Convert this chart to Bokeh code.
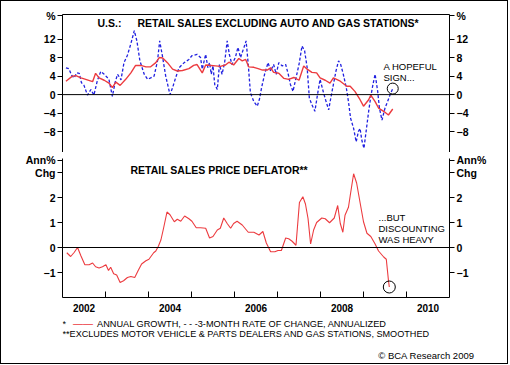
from bokeh.plotting import figure
from bokeh.models import Range1d, LinearAxis, FixedTicker, Span, Label, Title
from bokeh.layouts import column
from bokeh.embed import file_html
from bokeh.resources import INLINE

FONT = "Liberation Sans"

# ---------------- data ----------------
growth_x = [2002.08, 2002.23, 2002.31, 2002.43, 2002.54, 2002.70, 2002.77, 2002.85, 2002.97,
            2003.08, 2003.16, 2003.24, 2003.34, 2003.47, 2003.59, 2003.70, 2003.82, 2003.94,
            2004.05, 2004.17, 2004.25, 2004.33, 2004.44, 2004.56, 2004.67, 2004.79, 2004.94,
            2005.05, 2005.13, 2005.25, 2005.33, 2005.45, 2005.56, 2005.67, 2005.79, 2005.87, 2005.98,
            2006.10, 2006.18, 2006.26, 2006.33, 2006.45, 2006.55, 2006.65, 2006.76, 2006.84, 2006.91,
            2007.03, 2007.15, 2007.26, 2007.38, 2007.50, 2007.61, 2007.69, 2007.80, 2007.91,
            2007.99, 2008.11, 2008.22, 2008.30, 2008.46, 2008.61, 2008.69, 2008.80, 2008.92,
            2009.00, 2009.12, 2009.17, 2009.27, 2009.35, 2009.47, 2009.58, 2009.68]
growth_y = [2.9, 4.0, 4.1, 3.6, 3.3, 2.8, 4.6, 3.6, 3.1,
            2.5, 1.5, 2.7, 2.0, 3.3, 4.7, 6.3, 6.3, 6.0,
            6.0, 6.9, 8.0, 7.9, 6.9, 5.5, 5.1, 5.2, 5.6,
            6.3, 6.5, 4.7, 6.4, 6.3, 6.2, 6.1, 6.4, 7.0, 6.4,
            7.8, 7.3, 7.6, 6.0, 5.9, 5.6, 5.3, 5.3, 5.8, 4.8,
            4.6, 3.5, 3.3, 3.7, 3.1, 6.2, 5.5, 4.8, 4.7,
            3.6, 3.1, 2.5, 3.6, 2.9, 1.8, 1.8, 0.7, -1.1,
            -2.5, -1.1, -0.1, -1.5, -2.9, -3.6, -4.4, -3.1]

rate3m_x = [2002.08, 2002.15, 2002.21, 2002.27, 2002.33, 2002.39, 2002.44, 2002.50, 2002.58,
            2002.66, 2002.73, 2002.81, 2002.89, 2002.97, 2003.08, 2003.16, 2003.22, 2003.28,
            2003.36, 2003.43, 2003.51, 2003.59, 2003.67, 2003.73, 2003.80, 2003.90, 2003.98,
            2004.05, 2004.13, 2004.21, 2004.26, 2004.33, 2004.40, 2004.50, 2004.56, 2004.63,
            2004.71, 2004.83, 2004.94, 2005.01, 2005.13, 2005.21, 2005.25, 2005.33, 2005.38,
            2005.42, 2005.46, 2005.50, 2005.54, 2005.60, 2005.65, 2005.71, 2005.77, 2005.83,
            2005.88, 2005.94, 2006.02, 2006.08, 2006.14, 2006.22, 2006.27, 2006.32, 2006.37,
            2006.45, 2006.53, 2006.58, 2006.63, 2006.70, 2006.78, 2006.84, 2006.91, 2006.97,
            2007.03, 2007.11, 2007.19, 2007.25, 2007.30, 2007.36, 2007.43, 2007.50, 2007.57,
            2007.63, 2007.69, 2007.74, 2007.80, 2007.87, 2007.93, 2007.99, 2008.07, 2008.13,
            2008.19, 2008.24, 2008.30, 2008.36, 2008.42, 2008.47, 2008.53, 2008.60, 2008.65,
            2008.70, 2008.77, 2008.83, 2008.88, 2008.92, 2008.96, 2009.01, 2009.06, 2009.12,
            2009.17, 2009.22, 2009.27, 2009.33, 2009.37, 2009.43, 2009.50, 2009.56, 2009.62,
            2009.68]
rate3m_y = [5.8, 5.6, 4.2, 3.6, 4.7, 4.6, 2.6, 2.0, -0.1,
            1.1, -0.1, 3.0, 5.0, 4.4, 3.3, -0.4, 2.5, 4.4,
            3.2, 6.9, 8.5, 11.0, 13.8, 11.6, 7.3, 4.4, 3.3,
            3.6, 4.0, 7.3, 11.6, 8.0, 4.0, 0.0, 1.5, 3.6,
            5.8, 6.9, 7.6, 8.4, 8.7, 8.0, 5.5, 8.7, 5.8,
            6.9, 4.4, 6.2, 2.2, 1.1, 6.5, 4.4, 6.9, 11.6,
            8.7, 6.5, 8.0, 10.2, 8.0, 10.2, 11.6, 6.5, 0.4,
            -1.5, -2.5, -1.0, 1.5, 4.4, 6.9, 5.1, 6.5, 4.4,
            6.9, 6.2, 6.5, 4.4, 2.2, 0.7, 3.6, 6.5, 10.5,
            9.5, 5.8, -0.7, -2.2, -3.6, 0.0, 3.3, 0.4, -1.5,
            -3.3, -0.7, 2.2, 5.1, 7.3, 6.5, 4.4, 1.5, -1.5,
            -5.1, -7.3, -10.2, -8.0, -7.3, -9.8, -11.6, -8.0, -3.6,
            -0.4, 2.2, 4.4, 0.7, -2.9, -5.5, -2.9, -1.5, 0.0,
            1.3]

deflator_x = [2002.10, 2002.19, 2002.27, 2002.35, 2002.43, 2002.52, 2002.62, 2002.70, 2002.77,
              2002.85, 2002.93, 2003.01, 2003.07, 2003.12, 2003.19, 2003.26, 2003.34, 2003.42,
              2003.51, 2003.59, 2003.68, 2003.76, 2003.84, 2003.94, 2004.01, 2004.12, 2004.17,
              2004.23, 2004.29, 2004.35, 2004.43, 2004.50, 2004.60, 2004.67, 2004.75, 2004.84,
              2004.94, 2005.01, 2005.11, 2005.21, 2005.33, 2005.42, 2005.50, 2005.60, 2005.67,
              2005.75, 2005.83, 2005.91, 2005.98, 2006.06, 2006.18, 2006.32, 2006.45, 2006.57,
              2006.66, 2006.74, 2006.84, 2006.94, 2007.01, 2007.09, 2007.19, 2007.26, 2007.34,
              2007.43, 2007.51, 2007.59, 2007.65, 2007.71, 2007.77, 2007.84, 2007.91, 2008.03,
              2008.11, 2008.21, 2008.32, 2008.40, 2008.46, 2008.52, 2008.57, 2008.65, 2008.69,
              2008.77, 2008.84, 2008.92, 2009.00, 2009.08, 2009.17, 2009.27, 2009.35, 2009.47,
              2009.53, 2009.58, 2009.60]
deflator_y = [-0.21, -0.36, -0.20, 0.00, -0.34, -0.69, -0.69, -0.62, -0.77,
              -0.82, -0.77, -0.69, -0.92, -0.79, -1.05, -1.10, -1.40, -1.33,
              -1.20, -1.16, -1.20, -0.92, -0.66, -0.53, -0.47, -0.21, -0.14,
              0.05, 0.31, 0.77, 1.42, 1.31, 1.03, 1.13, 1.05, 1.26,
              1.15, 1.05, 0.79, 0.79, 0.77, 0.38, 0.44, 0.70, 0.77,
              1.18, 0.96, 0.77, 0.96, 1.05, 0.90, 0.61, 0.61, 0.50,
              0.64, 0.18, -0.17, -0.17, -0.12, -0.12, 0.38, 0.35, 0.25,
              0.09, 1.80, 2.03, 1.74, 1.16, 0.14, 0.70, 1.00, 1.18,
              1.15, 0.99, 1.18, 1.68, 0.96, 0.61, 1.29, 1.61, 2.06,
              2.95, 2.58, 1.80, 1.03, 0.57, 0.44, 0.14, -0.14, -0.38,
              -0.47, -1.31, -1.58]

upper_ticks = [-8, -4, 0, 4, 8, 12, 17.0]
upper_labels = {17.0: "%"}
lower_ticks = [-1, 0, 1, 2, 3, 3.5]
lower_labels = {3: "Chg", 3.5: "Ann%"}
year_label_pos = [2002.5, 2004.5, 2006.5, 2008.5, 2010.5]
year_labels = ["2002", "2004", "2006", "2008", "2010"]
year_bounds = [2003, 2004, 2005, 2006, 2007, 2008, 2009, 2010]

RED = "#ec3b3f"
BLUE = "#2020e0"
W = 506


def style_y(ax, ticks, overrides):
    ax.ticker = FixedTicker(ticks=ticks)
    ax.major_label_overrides = overrides
    ax.major_label_text_font = FONT
    ax.major_label_text_font_style = "bold"
    ax.major_label_text_font_size = "10.5px"
    ax.major_label_text_color = "black"
    ax.major_tick_out = 5
    ax.major_tick_in = 0
    ax.minor_tick_out = 0
    ax.minor_tick_in = 0
    ax.axis_line_color = "black"
    ax.major_tick_line_color = "black"
    ax.major_label_standoff = 2


def add_text(p, x, y, text, size="9.5px", bold=False, color="black", align="left"):
    p.add_layout(Label(x=x, y=y, x_units="screen", y_units="screen", text=text,
                       text_font=FONT, text_font_size=size,
                       text_font_style="bold" if bold else "normal",
                       text_color=color, text_align=align, text_baseline="middle"))


common = dict(width=W, output_backend="svg", toolbar_location=None,
              min_border_left=61, min_border_right=58,
              outline_line_color=None, background_fill_color="white",
              border_fill_color="white")

# ---------------- upper panel ----------------
p1 = figure(height=151, x_range=Range1d(2002, 2011), y_range=Range1d(-12.5, 17.3),
            x_axis_location=None, y_axis_location="left",
            min_border_top=13, min_border_bottom=0, **common)
p1.grid.visible = False
style_y(p1.yaxis[0], upper_ticks, upper_labels)
r1 = LinearAxis()
style_y(r1, upper_ticks, upper_labels)
p1.add_layout(r1, "right")
top_ax = LinearAxis(ticker=FixedTicker(ticks=[]), major_tick_out=0, major_tick_in=0,
                    minor_tick_out=0, minor_tick_in=0, major_label_standoff=0,
                    major_label_text_font_size="0px", axis_line_color="black")
p1.add_layout(top_ax, "above")
p1.add_layout(Span(location=0, dimension="width", line_color="black", line_width=1))

p1.line(rate3m_x, rate3m_y, line_color=BLUE, line_width=1.3, line_dash="3 2")
p1.line(growth_x, growth_y, line_color=RED, line_width=1.4)
p1.scatter([rate3m_x[-1]], [rate3m_y[-1]], size=11, fill_color=None,
           line_color="black", line_width=1)

add_text(p1, 35, 130, "U.S.:", size="10.5px", bold=True)
add_text(p1, 75, 130, "RETAIL SALES EXCLUDING AUTO AND GAS STATIONS*", size="10.5px", bold=True)
add_text(p1, 321, 86, "A HOPEFUL")
add_text(p1, 321, 75, "SIGN...")

# ---------------- lower panel ----------------
p2 = figure(height=165, x_range=p1.x_range, y_range=Range1d(-2.0, 3.56),
            x_axis_location="below", y_axis_location="left",
            min_border_top=6, min_border_bottom=20, **common)
p2.grid.visible = False
style_y(p2.yaxis[0], lower_ticks, lower_labels)
r2 = LinearAxis()
style_y(r2, lower_ticks, lower_labels)
p2.add_layout(r2, "right")

xa = p2.xaxis[0]
xa.ticker = FixedTicker(ticks=year_label_pos, minor_ticks=year_bounds)
xa.major_label_overrides = dict(zip(year_label_pos, year_labels))
xa.major_label_text_font = FONT
xa.major_label_text_font_style = "bold"
xa.major_label_text_font_size = "10px"
xa.major_label_text_color = "black"
xa.major_tick_out = 0
xa.major_tick_in = 0
xa.minor_tick_in = 6
xa.minor_tick_out = 0
xa.minor_tick_line_color = "black"
xa.axis_line_color = "black"
xa.major_label_standoff = 6

p2.add_layout(Span(location=0, dimension="width", line_color="black", line_width=1))
p2.line(deflator_x, deflator_y, line_color=RED, line_width=1.1)
p2.scatter([deflator_x[-1]], [deflator_y[-1]], size=12, fill_color=None,
           line_color="black", line_width=1)

add_text(p2, 68, 128, "RETAIL SALES PRICE DEFLATOR**", size="10.5px", bold=True)
add_text(p2, 316, 80, "...BUT")
add_text(p2, 316, 69, "DISCOUNTING")
add_text(p2, 316, 58, "WAS HEAVY")

# ---------------- footer (notes) ----------------
p3 = figure(height=46, x_range=Range1d(0, 1), y_range=Range1d(0, 1),
            min_border_top=0, min_border_bottom=17, **common)
p3.axis.visible = False
p3.grid.visible = False
add_text(p3, 0, 22.7, "*", size="9px")
add_text(p3, 10.5, 22.7, "\u2014\u2014", size="10px", color=RED)
add_text(p3, 34.5, 22.7, "ANNUAL GROWTH, - - -3-MONTH RATE OF CHANGE, ANNUALIZED", size="9.2px")
add_text(p3, 0, 12.7, "**EXCLUDES MOTOR VEHICLE & PARTS DEALERS AND GAS STATIONS, SMOOTHED", size="9.1px")
p3.add_layout(Title(text="\u00a9 BCA Research 2009", align="right", offset=-25, standoff=2,
                    text_font=FONT, text_font_size="9.5px", text_font_style="normal",
                    text_color="black"), "below")

layout = column(p1, p2, p3, styles={"border": "1px solid black"})
open("out.html", "w").write(file_html(layout, INLINE))
